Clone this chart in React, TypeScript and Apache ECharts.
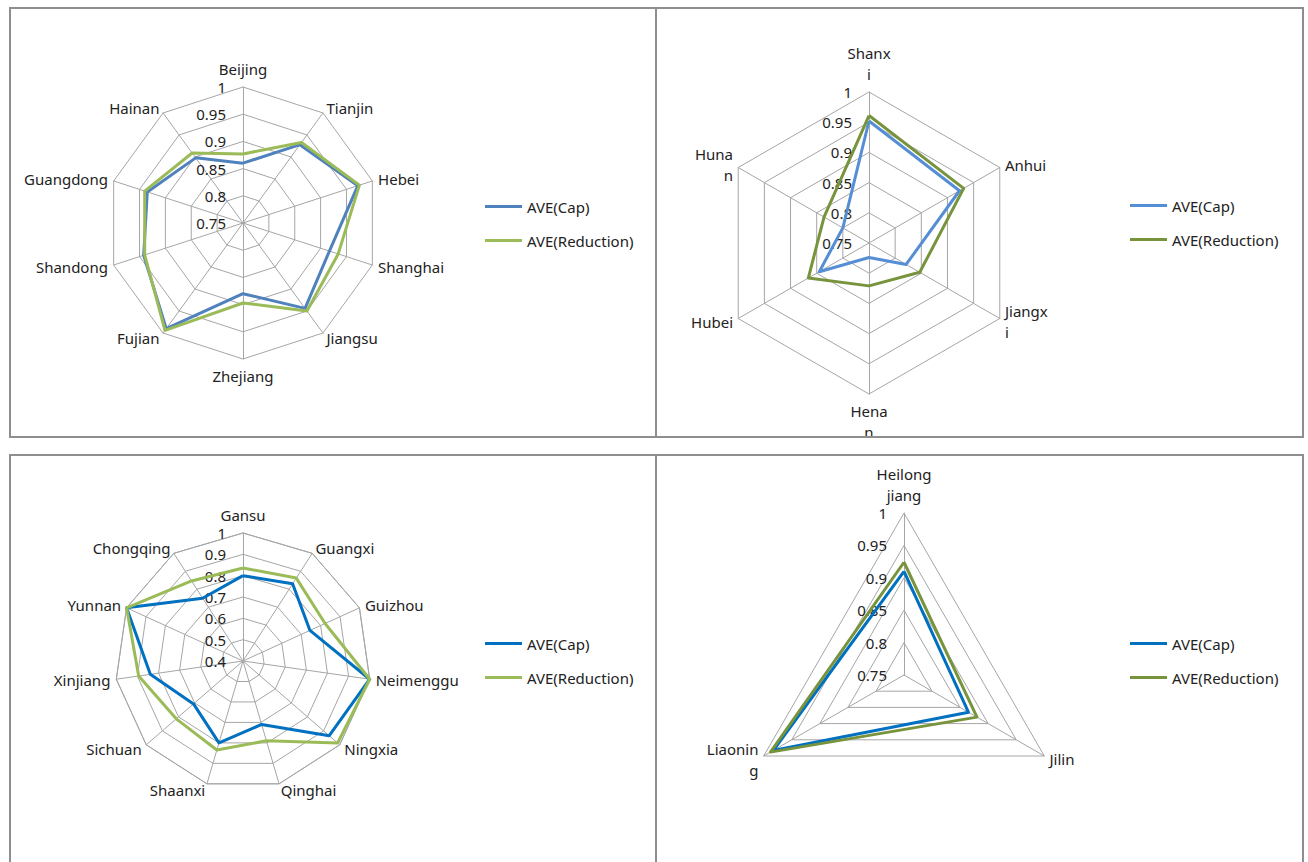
import React, { useEffect, useRef } from "react";
import * as echarts from "echarts";

// ---------- data ----------
const SERIES_NAMES = ["AVE(Cap)", "AVE(Reduction)"];

const P1_CATS = ["Beijing", "Tianjin", "Hebei", "Shanghai", "Jiangsu", "Zhejiang", "Fujian", "Shandong", "Guangdong", "Hainan"];
const P1_CAP = [0.86, 0.928, 0.972, 0.917, 0.944, 0.88, 0.99, 0.942, 0.935, 0.898];
const P1_RED = [0.877, 0.933, 0.975, 0.934, 0.95, 0.897, 0.994, 0.94, 0.94, 0.909];

const P2_CATS = ["Shanx\ni", "Anhui", "Jiangx\ni", "Hena\nn", "Hubei", "Huna\nn"];
const P2_CAP = [0.952, 0.923, 0.821, 0.774, 0.845, 0.8];
const P2_RED = [0.961, 0.931, 0.847, 0.821, 0.866, 0.836];

const P3_CATS = ["Gansu", "Guangxi", "Guizhou", "Neimenggu", "Ningxia", "Qinghai", "Shaanxi", "Sichuan", "Xinjiang", "Yunnan", "Chongqing"];
const P3_CAP = [0.8, 0.83, 0.745, 1.0, 0.935, 0.71, 0.8, 0.707, 0.839, 1.0, 0.75];
const P3_RED = [0.836, 0.862, 0.823, 1.0, 0.987, 0.79, 0.835, 0.814, 0.894, 1.0, 0.846];

const P4_CATS = ["Heilong\njiang", "Jilin", "Liaonin\ng"];
const P4_CAP = [0.91, 0.865, 0.983];
const P4_RED = [0.924, 0.88, 0.988];

// ---------- layout ----------
type Panel = {
  left: number; top: number; width: number; height: number;
  cats: string[]; cap: number[]; red: number[];
  min: number; max: number; split: number;
  center: [number, number]; radius: number;
  colors: [string, string];
  legendLeft: number; legendTop: number;
};

const PANELS: Panel[] = [
  { left: 9, top: 7, width: 648, height: 431, cats: P1_CATS, cap: P1_CAP, red: P1_RED, min: 0.75, max: 1, split: 5,
    center: [234, 216], radius: 136, colors: ["#4F81BD", "#9BBB59"], legendLeft: 476, legendTop: 190 },
  { left: 655, top: 7, width: 649, height: 431, cats: P2_CATS, cap: P2_CAP, red: P2_RED, min: 0.75, max: 1, split: 5,
    center: [214, 236], radius: 151, colors: ["#558ED5", "#77933C"], legendLeft: 475, legendTop: 189 },
  { left: 9, top: 454, width: 648, height: 420, cats: P3_CATS, cap: P3_CAP, red: P3_RED, min: 0.4, max: 1, split: 6,
    center: [234, 207], radius: 128, colors: ["#0070C0", "#9BBB59"], legendLeft: 476, legendTop: 180 },
  { left: 655, top: 454, width: 649, height: 420, cats: P4_CATS, cap: P4_CAP, red: P4_RED, min: 0.75, max: 1, split: 5,
    center: [249, 221], radius: 162, colors: ["#0070C0", "#77933C"], legendLeft: 475, legendTop: 180 },
];

const FONT = "'Noto Sans', 'Open Sans', sans-serif";
const GRID = "#A6A6A6";
const FS = 15;

// ECharts lays indicators counter-clockwise; the reference runs clockwise.
function clockwise<T>(arr: T[]): T[] {
  return [arr[0], ...arr.slice(1).reverse()];
}

function buildOption(p: Panel) {
  const names = clockwise(p.cats);
  const cap = clockwise(p.cap);
  const red = clockwise(p.red);
  const labelStyle = {
    show: false,
    color: "#222",
    fontSize: FS,
    fontFamily: FONT,
    margin: 17,
    formatter: (v: number) => String(Math.round(v * 100) / 100),
  };
  return {
    animation: false,
    legend: {
      orient: "vertical",
      left: p.legendLeft,
      top: p.legendTop,
      padding: 0,
      icon: "rect",
      itemWidth: 37,
      itemHeight: 3,
      itemGap: 15,
      textStyle: { color: "#222", fontSize: FS, fontFamily: FONT, lineHeight: 19 },
      data: SERIES_NAMES,
      selectedMode: false,
    },
    radar: {
      center: p.center,
      radius: p.radius,
      startAngle: 90,
      shape: "polygon",
      splitNumber: p.split,
      nameGap: 6,
      axisName: { color: "#222", fontSize: FS, fontFamily: FONT, lineHeight: 21 },
      axisLine: { lineStyle: { color: GRID, width: 1 } },
      splitLine: { lineStyle: { color: GRID, width: 1 } },
      splitArea: { show: false },
      axisTick: { show: false },
      axisLabel: labelStyle,
      indicator: names.map((n, i) => ({
        name: n,
        min: p.min,
        max: p.max,
        ...(i === 0 ? { axisLabel: { ...labelStyle, show: true } } : {}),
      })),
    },
    series: [
      { values: cap, name: SERIES_NAMES[0], color: p.colors[0] },
      { values: red, name: SERIES_NAMES[1], color: p.colors[1] },
    ].map((s) => ({
      type: "radar",
      name: s.name,
      symbol: "none",
      silent: true,
      itemStyle: { color: s.color },
      lineStyle: { color: s.color, width: 3 },
      data: [{ name: s.name, value: s.values, itemStyle: { color: s.color }, lineStyle: { color: s.color, width: 3 } }],
    })),
  };
}

function RadarPanel({ p }: { p: Panel }) {
  const ref = useRef<HTMLDivElement>(null);
  useEffect(() => {
    if (!ref.current) return;
    const chart = echarts.init(ref.current, undefined, { renderer: "svg" });
    chart.setOption(buildOption(p));
    return () => chart.dispose();
  }, [p]);
  return (
    <>
      <div ref={ref} style={{ position: "absolute", left: p.left, top: p.top, width: p.width, height: p.height }} />
      <div
        style={{
          position: "absolute",
          left: p.left,
          top: p.top,
          width: p.width,
          height: p.height,
          boxSizing: "border-box",
          border: "2px solid #8E8E8E",
          pointerEvents: "none",
        }}
      />
    </>
  );
}

export default function App() {
  return (
    <div
      style={{
        position: "fixed",
        left: 0,
        top: 0,
        width: 1308,
        height: 862,
        overflow: "hidden",
        background: "#ffffff",
      }}
    >
      {PANELS.map((p, i) => (
        <RadarPanel key={i} p={p} />
      ))}
    </div>
  );
}
